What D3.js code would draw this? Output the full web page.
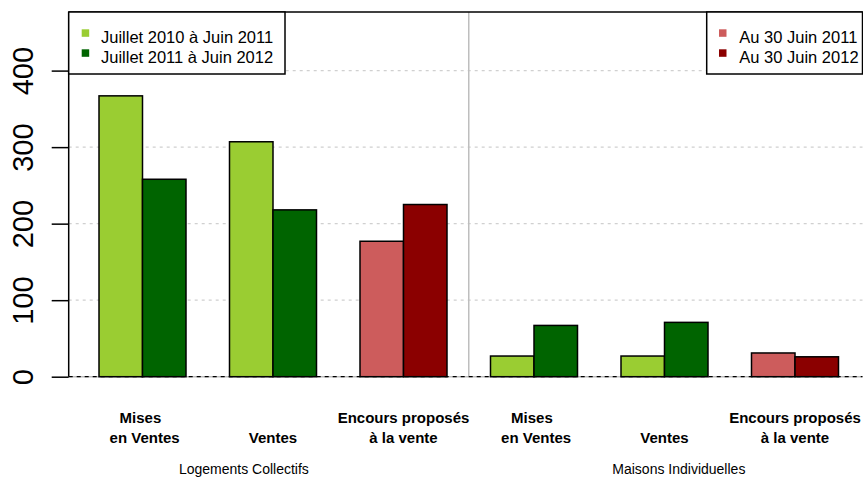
<!DOCTYPE html>
<html>
<head>
<meta charset="utf-8">
<script src="https://cdn.jsdelivr.net/npm/d3@7"></script>
<style>
  html, body { margin: 0; padding: 0; background: #fff; }
  svg { display: block; font-family: "Liberation Sans", Arial, sans-serif; }
  text { white-space: pre; }
</style>
</head>
<body>
<svg id="chart" width="863" height="480"></svg>
<script>
// ---- data ----
const categories = ["Mises \n en Ventes", "Ventes", "Encours proposés\nà la vente",
                    "Mises \n en Ventes", "Ventes", "Encours proposés\nà la vente"];
const groupLabels = ["Logements Collectifs", "Maisons Individuelles"];
const firstValues  = [367, 307, 177, 27, 27, 31];
const secondValues = [258, 218, 225, 67, 71, 26];
const categoryKind = ["flux", "flux", "stock", "flux", "flux", "stock"];
const yTicks = [0, 100, 200, 300, 400];
const legendFlux  = ["Juillet 2010 à Juin 2011", "Juillet 2011 à Juin 2012"];
const legendStock = ["Au 30 Juin 2011", "Au 30 Juin 2012"];

// ---- styles ----
const colors = {
  flux:  ["#9ACD32", "#006400"],
  stock: ["#CD5C5C", "#8B0000"]
};

const svg = d3.select("#chart");
const plotLeft = 68.7, plotTop = 12, plotRight = 862.5;

// x in "bar units" (R barplot style: space 1 before each group, bar width 1)
const x = d3.scaleLinear().domain([0, 18]).range([55.5, 838.5]);
const y = d3.scaleLinear().domain([0, 400]).range([376.7, 70.6]);
const groupStart = i => 1 + 3 * i;

// grid lines
const gridG = svg.append("g");
gridG.selectAll("line.grid").data(yTicks.filter(d => d > 0)).join("line")
  .attr("x1", plotLeft).attr("x2", plotRight)
  .attr("y1", d => y(d)).attr("y2", d => y(d))
  .attr("stroke", "#d0d0d0").attr("stroke-width", 1.2)
  .attr("stroke-dasharray", "3,4");

// separator
svg.append("line")
  .attr("x1", x(9.5)).attr("x2", x(9.5))
  .attr("y1", plotTop).attr("y2", y(0))
  .attr("stroke", "#bebebe").attr("stroke-width", 1.5);

// baseline (gray + black dashed)
svg.append("line").attr("x1", plotLeft).attr("x2", plotRight)
  .attr("y1", y(0)).attr("y2", y(0)).attr("stroke", "#bdbdbd").attr("stroke-width", 1.5);

// bars
const barData = [];
categories.forEach((c, i) => {
  [firstValues[i], secondValues[i]].forEach((v, j) => {
    barData.push({ i, j, v, color: colors[categoryKind[i]][j] });
  });
});
svg.append("g").selectAll("rect").data(barData).join("rect")
  .attr("x", d => x(groupStart(d.i) + d.j))
  .attr("width", d => x(groupStart(d.i) + d.j + 1) - x(groupStart(d.i) + d.j))
  .attr("y", d => y(d.v))
  .attr("height", d => y(0) - y(d.v))
  .attr("fill", d => d.color)
  .attr("stroke", "#000").attr("stroke-width", 1.5);

svg.append("line").attr("x1", plotLeft).attr("x2", plotRight)
  .attr("y1", y(0)).attr("y2", y(0)).attr("stroke", "#000").attr("stroke-width", 1.3)
  .attr("stroke-dasharray", "4,4");

// y axis
const yAxis = d3.axisLeft(y).tickValues(yTicks).tickSize(17).tickFormat(d3.format("d"));
const yG = svg.append("g").attr("transform", `translate(${plotLeft},0)`).call(yAxis);
yG.select(".domain").remove();
yG.selectAll(".tick line").attr("stroke", "#000").attr("stroke-width", 1.5);
yG.selectAll(".tick text")
  .attr("font-size", 29).attr("fill", "#000")
  .attr("font-family", "Liberation Sans, Arial, sans-serif")
  .attr("text-anchor", "middle")
  .attr("x", null).attr("dy", null)
  .attr("transform", "translate(-35.5,0) rotate(-90)");

// plot box: left line and top line
svg.append("line").attr("x1", plotLeft).attr("x2", plotLeft)
  .attr("y1", plotTop).attr("y2", y(0)).attr("stroke", "#000").attr("stroke-width", 1.5);
svg.append("line").attr("x1", plotLeft).attr("x2", plotRight)
  .attr("y1", plotTop).attr("y2", plotTop).attr("stroke", "#000").attr("stroke-width", 1.5);

// legends
function legend(x0, x1, labels, cols, textX, keyX) {
  const g = svg.append("g");
  g.append("rect").attr("x", x0).attr("y", plotTop).attr("width", x1 - x0).attr("height", 62)
    .attr("fill", "#fff").attr("stroke", "#000").attr("stroke-width", 1.5);
  labels.forEach((t, k) => {
    g.append("rect").attr("x", keyX).attr("y", 29.3 + 20 * k).attr("width", 7.5).attr("height", 7.5)
      .attr("fill", cols[k]);
    g.append("text").attr("x", textX).attr("y", 42.7 + 20 * k)
      .attr("font-size", 16.5).attr("fill", "#000").text(t);
  });
}
legend(plotLeft, 285, legendFlux, colors.flux, 101, 81.7);
legend(706.7, plotRight, legendStock, colors.stock, 739.3, 719);

// category labels
categories.forEach((c, i) => {
  const cx = x(groupStart(i) + 1);
  const lines = c.split("\n");
  const t = svg.append("text").attr("text-anchor", "middle")
    .attr("font-size", 15).attr("font-weight", "bold").attr("fill", "#000");
  if (lines.length === 2) {
    t.append("tspan").attr("x", cx).attr("y", 423.3).text(lines[0]);
    t.append("tspan").attr("x", cx).attr("y", 443.3).text(lines[1]);
  } else {
    t.append("tspan").attr("x", cx).attr("y", 443.3).text(lines[0]);
  }
});

// group labels
const groupLabelPos = [4.33, 14.33];
groupLabels.forEach((g, k) => {
  svg.append("text").attr("x", x(groupLabelPos[k])).attr("y", 474)
    .attr("text-anchor", "middle").attr("font-size", 14).attr("fill", "#000").text(g);
});
</script>
</body>
</html>
